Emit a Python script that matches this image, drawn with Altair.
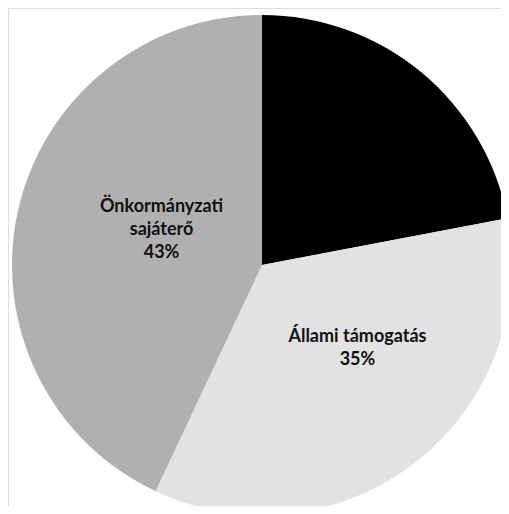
import altair as alt
import pandas as pd

categories = ["Egyéb", "Állami támogatás", "Önkormányzati sajáterő"]
values = [22, 35, 43]
labels = ["", "Állami támogatás\n35%", "Önkormányzati\nsajáterő\n43%"]
colors = ["#000000", "#e2e2e2", "#b0b0b0"]

df = pd.DataFrame({"cat": categories, "val": values, "label": labels,
                   "ord": list(range(len(categories)))})

CX, CY, R = 254, 257, 250

base = alt.Chart(df).encode(
    theta=alt.Theta("val:Q", stack=True),
    order=alt.Order("ord:Q"),
)

pie = base.mark_arc(stroke=None).encode(
    color=alt.Color("cat:N", scale=alt.Scale(domain=categories, range=colors), legend=None),
    x=alt.value(CX), y=alt.value(CY), radius=alt.value(R),
)

def lab(cat, r, dx, dy):
    return base.mark_text(
        font="Lato", fontWeight="bold", fontSize=18, color="#111111",
        lineBreak="\n", lineHeight=23, align="center", baseline="middle",
        dx=dx, dy=dy,
    ).encode(
        text=alt.condition(alt.datum.cat == cat, "label:N", alt.value("")),
        x=alt.value(CX), y=alt.value(CY), radius=alt.value(r),
    )

chart = alt.layer(
    pie,
    lab("Állami támogatás", 128, 17, -29),
    lab("Önkormányzati sajáterő", 106, 3, -35),
).properties(
    width=493, height=498, autosize=alt.AutoSizeParams(type="none"), padding=0,
).configure_view(stroke=None).configure(background="white")

chart.save("out.html", embed_options={"renderer": "svg", "actions": False})
